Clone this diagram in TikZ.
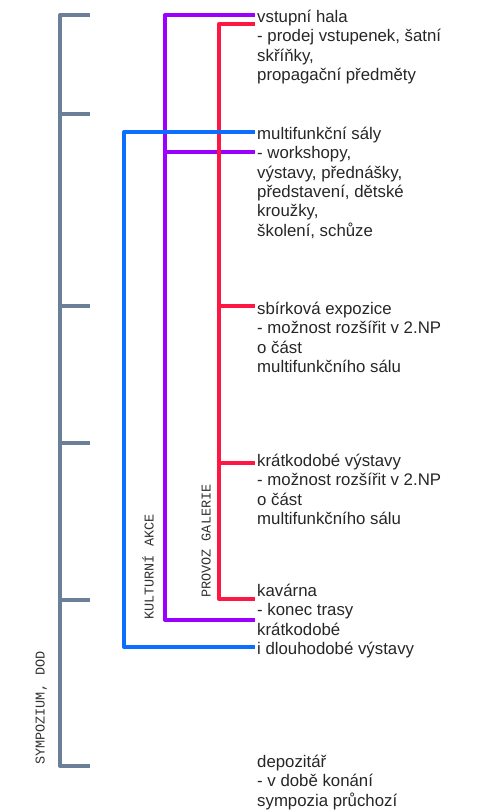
\documentclass[tikz,border=0pt]{standalone}
\usepackage{fontspec}
\setmainfont{Liberation Sans}
\setmonofont{Liberation Mono}
\usepackage{xcolor}
\usetikzlibrary{positioning}

\definecolor{spinegray}{HTML}{6B7F99}
\definecolor{akceblue}{HTML}{0A6EFF}
\definecolor{akcepurple}{HTML}{9B00FF}
\definecolor{galred}{HTML}{FF1744}

\begin{document}
\begin{tikzpicture}[x=1pt,y=-1pt,
    txt/.style={anchor=north west, inner sep=0pt, align=left, text=black!85,
      font=\fontsize{16.8}{19.3}\selectfont, execute at begin node=\rule{0pt}{14pt}},
    vtag/.style={anchor=mid west, rotate=90, inner sep=0pt, text=black!80,
      font=\ttfamily\fontsize{13.5}{16}\selectfont},
    bar/.style={line width=4pt, line join=round}]
    \useasboundingbox (0,0) rectangle (478,812);

    % rooms
    \node[txt] (hala) at (257,10) {vstupní hala\\- prodej vstupenek, šatní\\skříňky,\\propagační předměty};
    \node[txt] (saly) at (257,127) {multifunkční sály\\- workshopy,\\výstavy, přednášky,\\představení, dětské\\kroužky,\\školení, schůze};
    \node[txt] (sbirka) at (257,302) {sbírková expozice\\- možnost rozšířit v 2.NP\\o část\\multifunkčního sálu};
    \node[txt] (kratko) at (257,454) {krátkodobé výstavy\\- možnost rozšířit v 2.NP\\o část\\multifunkčního sálu};
    \node[txt] (kavarna) at (257,584) {kavárna\\- konec trasy\\krátkodobé\\i dlouhodobé výstavy};
    \node[txt] (depo) at (257,755) {depozitář\\- v době konání\\sympozia průchozí};

    % group names
    \node[vtag] (sympozium) at (42,765) {SYMPOZIUM, DOD};
    \node[vtag] (akce) at (151,620) {KULTURNÍ AKCE};
    \node[vtag] (galerie) at (208,598) {PROVOZ GALERIE};

    % sympozium bracket
    \coordinate (sym-top) at (60,15);
    \coordinate (sym-bot) at (60,766);
    \draw[bar, spinegray] ([xshift=30pt]sym-top) -- (sym-top) -- (sym-bot) -- ([xshift=30pt]sym-bot);
    \foreach \y in {114,306,443,600}
        \draw[bar, spinegray] (sym-top |- 0,\y) -- ++(30,0);

    % kulturni akce (purple)
    \coordinate (akce-top) at (165,15);
    \coordinate (akce-bot) at (165,620);
    \coordinate (akce-hala) at (255,15);
    \coordinate (akce-saly) at (255,152);
    \coordinate (akce-kav) at (255,620);
    \draw[bar, akcepurple] (akce-hala) -- (akce-top) -- (akce-bot) -- (akce-kav);
    \draw[bar, akcepurple] (akce-top |- akce-saly) -- (akce-saly);

    % provoz galerie (red)
    \coordinate (gal-top) at (219,24);
    \coordinate (gal-bot) at (219,599);
    \coordinate (gal-hala) at (255,24);
    \coordinate (gal-sbirka) at (255,306);
    \coordinate (gal-kratko) at (255,463);
    \coordinate (gal-kav) at (255,599);
    \draw[bar, galred] (gal-hala) -- (gal-top) -- (gal-bot) -- (gal-kav);
    \draw[bar, galred] (gal-top |- gal-sbirka) -- (gal-sbirka);
    \draw[bar, galred] (gal-top |- gal-kratko) -- (gal-kratko);

    % kulturni akce (blue)
    \coordinate (ka-top) at (124,132);
    \coordinate (ka-bot) at (124,647);
    \coordinate (ka-saly) at (255,132);
    \coordinate (ka-kav) at (255,647);
    \draw[bar, akceblue] (ka-saly) -- (ka-top) -- (ka-bot) -- (ka-kav);
\end{tikzpicture}
\end{document}
